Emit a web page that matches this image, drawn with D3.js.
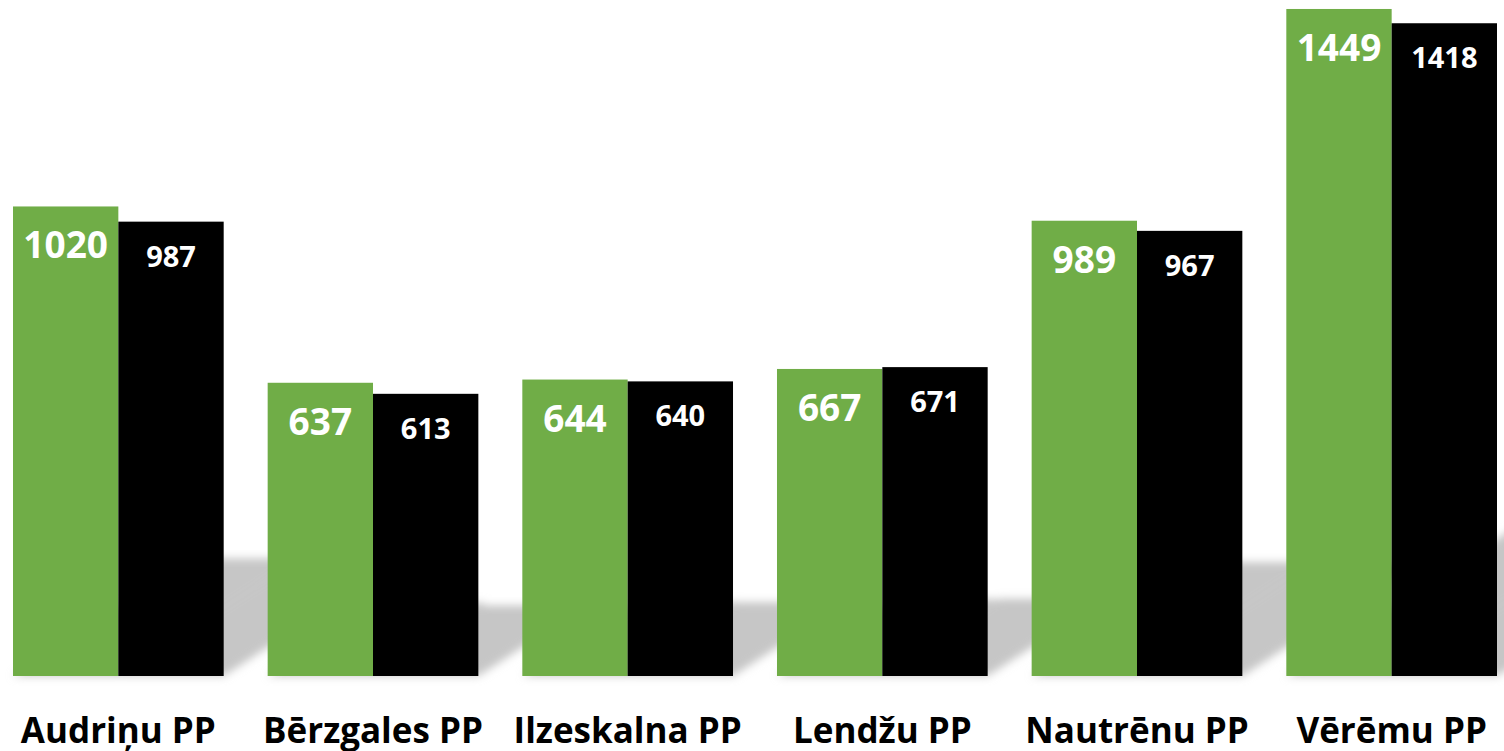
<!DOCTYPE html>
<html>
<head>
<meta charset="utf-8">
<script src="https://cdn.jsdelivr.net/npm/d3@7/dist/d3.min.js"></script>
<style>
  body { margin: 0; padding: 0; background: #fff; }
  svg { display: block; }
  text { font-family: "Open Sans", "Noto Sans", sans-serif; font-weight: bold; }
</style>
</head>
<body>
<div id="chart"></div>
<script>
  var categories = ["Audriņu PP", "Bērzgales PP", "Ilzeskalna PP", "Lendžu PP", "Nautrēnu PP", "Vērēmu PP"];
  var seriesA = [1020, 637, 644, 667, 989, 1449];
  var seriesB = [987, 613, 640, 671, 967, 1418];
  var seriesNames = ["a", "b"];
  var colors = ["#70ad47", "#000000"];

  var width = 1504, height = 751;
  var baseY = 676;

  var svg = d3.select("#chart")
      .append("svg")
      .attr("width", width)
      .attr("height", height);

  var x0 = d3.scaleBand()
      .domain(categories)
      .range([13, 1497])
      .paddingInner(0.1727)
      .paddingOuter(0);

  var x1 = d3.scaleBand()
      .domain(seriesNames)
      .range([0, x0.bandwidth()]);

  var y = d3.scaleLinear()
      .domain([0, 1500])
      .range([baseY, baseY - 690.5]);

  var rows = categories.map(function(c, i) {
      return [
          {cat: c, s: "a", v: seriesA[i]},
          {cat: c, s: "b", v: seriesB[i]}
      ];
  });
  var flat = [].concat.apply([], rows);

  // perspective shadow
  var defs = svg.append("defs");
  defs.append("filter")
      .attr("id", "blur")
      .attr("x", "-20%").attr("y", "-20%")
      .attr("width", "140%").attr("height", "140%")
    .append("feGaussianBlur")
      .attr("stdDeviation", 4);

  var shScale = 0.25, shSlope = 0.65;
  svg.append("g")
      .attr("filter", "url(#blur)")
    .selectAll("polygon")
    .data(flat)
    .enter()
    .append("polygon")
      .attr("fill", "#c6c6c6")
      .attr("points", function(d) {
          var xl = x0(d.cat) + x1(d.s);
          var xr = xl + x1.bandwidth();
          var h = (baseY - y(d.v)) * shScale;
          var dx = h / shSlope;
          return [[xl, baseY], [xr, baseY], [xr + dx, baseY - h], [xl + dx, baseY - h]]
              .map(function(p) { return p.join(","); }).join(" ");
      });

  // bars
  svg.append("g")
    .selectAll("rect")
    .data(flat)
    .enter()
    .append("rect")
      .attr("x", function(d) { return x0(d.cat) + x1(d.s); })
      .attr("y", function(d) { return y(d.v); })
      .attr("width", x1.bandwidth())
      .attr("height", function(d) { return baseY - y(d.v); })
      .attr("fill", function(d) { return d.s == "a" ? colors[0] : colors[1]; });

  // value labels
  svg.append("g")
    .selectAll("text")
    .data(flat)
    .enter()
    .append("text")
      .attr("x", function(d) { return x0(d.cat) + x1(d.s) + x1.bandwidth() / 2; })
      .attr("y", function(d) { return y(d.v) + (d.s == "a" ? 52 : 45); })
      .attr("text-anchor", "middle")
      .attr("fill", "#fff")
      .style("font-size", function(d) { return d.s == "a" ? "37px" : "29px"; })
      .text(function(d) { return d.v; });

  // category labels
  svg.append("g")
    .selectAll("text")
    .data(categories)
    .enter()
    .append("text")
      .attr("x", function(d) { return x0(d) + x0.bandwidth() / 2; })
      .attr("y", 743)
      .attr("text-anchor", "middle")
      .attr("fill", "#000")
      .style("font-size", "35px")
      .text(function(d) { return d; });
</script>
</body>
</html>
